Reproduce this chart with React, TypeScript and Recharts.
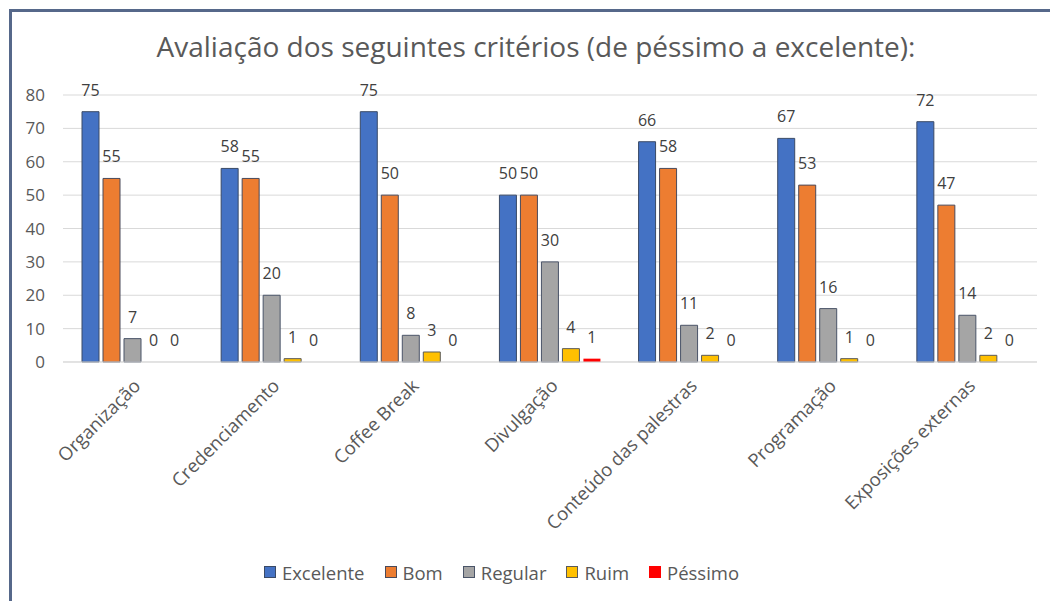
import React from "react";
import { BarChart, Bar, XAxis, YAxis, CartesianGrid, LabelList, Legend, Cell } from "recharts";

const categories = [
  "Organização",
  "Credenciamento",
  "Coffee Break",
  "Divulgação",
  "Conteúdo das palestras",
  "Programação",
  "Exposições externas",
];
const excelente = [75, 58, 75, 50, 66, 67, 72];
const bom = [55, 55, 50, 50, 58, 53, 47];
const regular = [7, 20, 8, 30, 11, 16, 14];
const ruim = [0, 1, 3, 4, 2, 1, 2];
const pessimo = [0, 0, 0, 1, 0, 0, 0];
const yTicks = [0, 10, 20, 30, 40, 50, 60, 70, 80];

const series = [
  { key: "Excelente", values: excelente, color: "#4472C4", stroke: "#3a4a66" },
  { key: "Bom", values: bom, color: "#ED7D31", stroke: "#4a4a5a" },
  { key: "Regular", values: regular, color: "#A5A5A5", stroke: "#4a5468" },
  { key: "Ruim", values: ruim, color: "#FFC000", stroke: "#5a5a5a" },
  { key: "Péssimo", values: pessimo, color: "#FF0000", stroke: "none" },
];

const data = categories.map((c, i) => {
  const row: Record<string, any> = { name: c };
  series.forEach((s) => (row[s.key] = s.values[i]));
  return row;
});

const FONT = "'Open Sans', 'Noto Sans', sans-serif";

const XTick = (props: any) => {
  const { x, y, payload } = props;
  const ax = x + 9;
  const ay = y + 17;
  return (
    <text
      x={ax}
      y={ay}
      textAnchor="end"
      transform={`rotate(-45, ${ax}, ${ay})`}
      fill="#595959"
      fontSize={18.5}
      fontFamily={FONT}
    >
      {payload.value}
    </text>
  );
};

const renderValueLabel = (props: any) => {
  const { x, y, width, value } = props;
  return (
    <text
      x={Number(x) + Number(width) / 2}
      y={Number(y) - 16}
      textAnchor="middle"
      fill="#404040"
      fontSize={16}
      fontFamily={FONT}
    >
      {value}
    </text>
  );
};

const LegendContent = () => (
  <div
    style={{
      height: 58,
      display: "flex",
      alignItems: "center",
      justifyContent: "center",
      fontFamily: FONT,
      fontSize: 18.5,
      color: "#595959",
      paddingRight: 34,
      boxSizing: "border-box",
    }}
  >
    {series.map((s) => (
      <div key={s.key} style={{ display: "flex", alignItems: "center", margin: "0 10px" }}>
        <span
          style={{
            display: "inline-block",
            width: 12,
            height: 12,
            background: s.color,
            border: s.stroke === "none" ? "none" : `1px solid ${s.stroke}`,
            boxSizing: "border-box",
            marginRight: 6,
          }}
        />
        <span>{s.key}</span>
      </div>
    ))}
  </div>
);

export default function App() {
  return (
    <div style={{ position: "absolute", left: 0, top: 0, width: 1050, height: 601, overflow: "hidden", background: "#fff" }}>
      <div
        style={{
          position: "absolute",
          left: 9,
          top: 9,
          width: 1080,
          height: 640,
          border: "3px solid #56688a",
          boxSizing: "border-box",
        }}
      />
      <div
        style={{
          position: "absolute",
          left: 0,
          top: 27,
          width: 1072,
          textAlign: "center",
          fontFamily: FONT,
          fontSize: 28,
          color: "#595959",
        }}
      >
        Avaliação dos seguintes critérios (de péssimo a excelente):
      </div>
      <div style={{ position: "absolute", left: 0, top: 0 }}>
        <BarChart
          width={1050}
          height={601}
          data={data}
          margin={{ top: 95, right: 13, left: 0, bottom: 0 }}
          barSize={17}
          barGap={4}
        >
          <CartesianGrid vertical={false} stroke="#d9d9d9" />
          <XAxis
            dataKey="name"
            height={181}
            interval={0}
            tickLine={false}
            axisLine={{ stroke: "#d9d9d9" }}
            tick={<XTick />}
          />
          <YAxis
            width={63}
            domain={[0, 80]}
            ticks={yTicks}
            tickLine={false}
            axisLine={false}
            tickSize={0}
            tickMargin={18}
            tick={{ fill: "#595959", fontSize: 17, fontFamily: FONT }}
          />
          <Legend verticalAlign="bottom" content={<LegendContent />} wrapperStyle={{ height: 58 }} />
          {series.map((s) => (
            <Bar
              key={s.key}
              dataKey={s.key}
              fill={s.color}
              stroke={s.stroke}
              strokeWidth={1}
              minPointSize={(v: any) => (v === 0 ? 0.001 : 0)}
              isAnimationActive={false}
            >
              {s.values.map((v, i) => (
                <Cell key={i} fill={s.color} stroke={v === 0 ? "none" : s.stroke} />
              ))}
              <LabelList dataKey={s.key} content={renderValueLabel} />
            </Bar>
          ))}
        </BarChart>
      </div>
    </div>
  );
}
